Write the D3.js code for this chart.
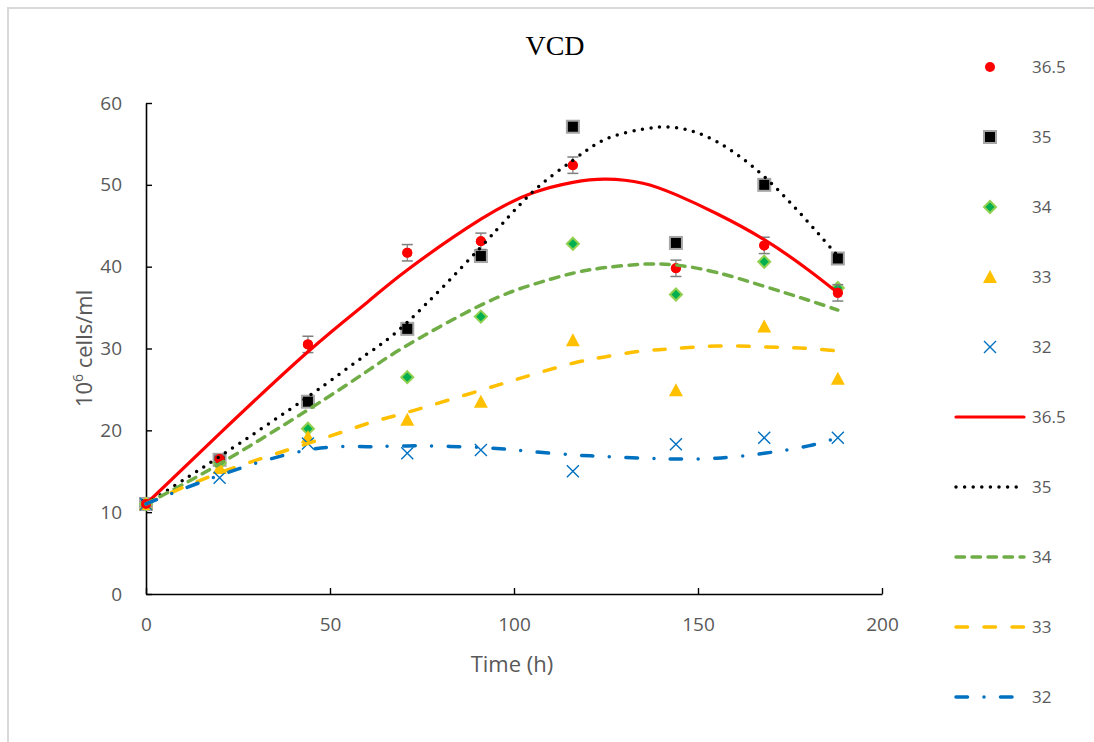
<!DOCTYPE html>
<html>
<head>
<meta charset="utf-8">
<script src="https://cdn.jsdelivr.net/npm/d3@7"></script>
<style>
  body { margin: 0; background: #fff; }
  svg text { font-family: "Open Sans", "Noto Sans", sans-serif; fill: #595959; }
</style>
</head>
<body>
<div id="chart"></div>
<script>
// data
const times = [0, 20, 44, 71, 91, 116, 144, 168, 188];
const vcd365 = [11.0, 16.5, 30.5, 41.7, 43.1, 52.4, 39.8, 42.6, 36.8];
const err365 = [0.3, 0.4, 1.0, 1.0, 1.0, 1.0, 1.0, 1.0, 1.0];
const vcd35 = [11.0, 16.4, 23.5, 32.4, 41.3, 57.1, 42.9, 50.0, 41.0];
const vcd34 = [11.0, 16.0, 20.2, 26.5, 33.9, 42.8, 36.6, 40.6, 37.4];
const vcd33 = [11.0, 15.4, 19.2, 21.3, 23.5, 31.0, 24.9, 32.7, 26.3];
const vcd32 = [11.0, 14.2, 18.4, 17.2, 17.6, 15.0, 18.3, 19.1, 19.1];

// trend lines
const trendTimes = [0, 20, 44, 60, 71, 91, 105, 116, 125, 135, 144, 155, 168, 180, 188];
const trend365 = [11.0, 19.6, 29.6, 35.6, 39.6, 45.8, 49.0, 50.3, 50.7, 50.2, 48.8, 46.5, 43.3, 39.6, 36.8];
const trend35 = [11.0, 16.8, 24.1, 29.3, 33.2, 42.4, 49.1, 53.0, 55.6, 56.8, 57.0, 55.3, 51.0, 45.4, 41.3];
const trend34 = [11.0, 15.9, 22.5, 27.2, 30.4, 35.3, 37.8, 39.2, 39.9, 40.3, 40.2, 39.3, 37.6, 35.9, 34.7];
const trend33 = [11.0, 14.8, 18.4, 20.8, 22.2, 24.9, 26.8, 28.2, 29.0, 29.7, 30.0, 30.3, 30.2, 30.0, 29.7];
const trend32 = [11.0, 14.5, 17.6, 18.0, 18.1, 17.9, 17.4, 17.0, 16.8, 16.6, 16.5, 16.6, 17.2, 18.1, 19.1];

const xTicks = [0, 50, 100, 150, 200];
const yTicks = [0, 10, 20, 30, 40, 50, 60];
const legendNames = ["36.5", "35", "34", "33", "32"];

const W = 1094, H = 742;
const margin = { left: 146, right: 212, top: 103, bottom: 148 };

const svg = d3.select("#chart").append("svg")
  .attr("width", W)
  .attr("height", H);

// chart area border
svg.append("rect")
  .attr("x", 8).attr("y", 8)
  .attr("width", W + 10).attr("height", H + 10)
  .attr("fill", "#fff")
  .attr("stroke", "#d9d9d9")
  .attr("stroke-width", 2);

const x = d3.scaleLinear().domain([0, 200]).range([margin.left, W - margin.right]);
const y = d3.scaleLinear().domain([0, 60]).range([H - margin.bottom, margin.top]);

// title
svg.append("text")
  .attr("x", 555).attr("y", 55)
  .attr("text-anchor", "middle")
  .style("font-family", "'Liberation Serif', 'DejaVu Serif', serif")
  .style("font-size", "28px")
  .style("fill", "#000")
  .text("VCD");

// axes
svg.append("g")
  .attr("transform", `translate(0,${y(0)})`)
  .call(d3.axisBottom(x).tickValues(xTicks).tickSizeInner(-6).tickSizeOuter(0).tickPadding(24))
  .call(g => g.select(".domain").attr("stroke", "#000").attr("stroke-width", 1.6))
  .call(g => g.selectAll(".tick line").attr("stroke", "#000").attr("stroke-width", 1.4))
  .call(g => g.selectAll(".tick text").style("font-size", "19px").style("font-family", "'Open Sans', sans-serif").attr("fill", "#595959"));

svg.append("g")
  .attr("transform", `translate(${x(0)},0)`)
  .call(d3.axisLeft(y).tickValues(yTicks).tickSizeInner(-6).tickSizeOuter(0).tickPadding(24))
  .call(g => g.select(".domain").attr("stroke", "#000").attr("stroke-width", 1.6))
  .call(g => g.selectAll(".tick line").attr("stroke", "#000").attr("stroke-width", 1.4))
  .call(g => g.selectAll(".tick text").style("font-size", "19px").style("font-family", "'Open Sans', sans-serif").attr("fill", "#595959"));

// axis titles
svg.append("text")
  .attr("x", x(100) - 2).attr("y", 672)
  .attr("text-anchor", "middle")
  .style("font-size", "22px")
  .text("Time (h)");

const yLab = svg.append("text")
  .attr("transform", `translate(92,${y(30)}) rotate(-90)`)
  .attr("text-anchor", "middle")
  .style("font-size", "22px");
yLab.append("tspan").text("10");
yLab.append("tspan").attr("dy", -9).style("font-size", "14px").text("6");
yLab.append("tspan").attr("dy", 9).text(" cells/ml");

// series styles
const series = [
  { name: "36.5", values: vcd365, trend: trend365, marker: "circle", color: "#ff0000", dash: null },
  { name: "35", values: vcd35, trend: trend35, marker: "square", color: "#000000", dash: "0,8.6" },
  { name: "34", values: vcd34, trend: trend34, marker: "diamond", color: "#70ad47", dash: "8.5,7.5" },
  { name: "33", values: vcd33, trend: trend33, marker: "triangle", color: "#ffc000", dash: "11.5,16.5" },
  { name: "32", values: vcd32, trend: trend32, marker: "cross", color: "#0070c0", dash: "11.5,16.5,0,16.5" }
];

function drawMarker(g, type, cx, cy) {
  if (type === "circle") {
    g.append("circle").attr("cx", cx).attr("cy", cy).attr("r", 5).attr("fill", "#ff0000");
  } else if (type === "square") {
    g.append("rect").attr("x", cx - 6).attr("y", cy - 6).attr("width", 12).attr("height", 12)
      .attr("fill", "#000").attr("stroke", "#a6a6a6").attr("stroke-width", 2);
  } else if (type === "diamond") {
    g.append("path").attr("transform", `translate(${cx},${cy})`)
      .attr("d", "M0,-6L6,0L0,6L-6,0Z")
      .attr("fill", "#00b050").attr("stroke", "#92d050").attr("stroke-width", 2);
  } else if (type === "triangle") {
    g.append("path").attr("transform", `translate(${cx},${cy})`)
      .attr("d", "M0,-7L7,6L-7,6Z")
      .attr("fill", "#ffc000");
  } else {
    g.append("path").attr("transform", `translate(${cx},${cy})`)
      .attr("d", "M-6,-6L6,6M6,-6L-6,6")
      .attr("fill", "none").attr("stroke", "#0070c0").attr("stroke-width", 1.4);
  }
}

// markers
const markers = svg.append("g").attr("class", "markers");
series.forEach(s => {
  const g = markers.append("g");
  s.values.forEach((v, i) => drawMarker(g, s.marker, x(times[i]), y(v)));
});

// error bars for 36.5
const eb = svg.append("g").attr("class", "errorbars");
times.forEach((t, i) => {
  const cx = x(t), lo = y(vcd365[i] - err365[i]), hi = y(vcd365[i] + err365[i]);
  eb.append("line").attr("x1", cx).attr("x2", cx).attr("y1", lo).attr("y2", hi)
    .attr("stroke", "#7f7f7f").attr("stroke-width", 1.2);
  [lo, hi].forEach(yy => eb.append("line")
    .attr("x1", cx - 5.5).attr("x2", cx + 5.5).attr("y1", yy).attr("y2", yy)
    .attr("stroke", "#7f7f7f").attr("stroke-width", 1.5));
});
// redraw red dots above bars
series.slice(0, 1).forEach(s => {
  s.values.forEach((v, i) => drawMarker(eb, s.marker, x(times[i]), y(v)));
});

// trend lines
const line = d3.line()
  .x((d, i) => x(trendTimes[i]))
  .y(d => y(d))
  .curve(d3.curveNatural);

const lines = svg.append("g").attr("class", "trendlines");
series.forEach(s => {
  lines.append("path")
    .attr("d", line(s.trend))
    .attr("fill", "none")
    .attr("stroke", s.color)
    .attr("stroke-width", s.dash ? 3.5 : 3.2)
    .attr("stroke-linecap", "round")
    .attr("stroke-dasharray", s.dash);
});

// legend
const legend = svg.append("g").attr("class", "legend");
const legX = 990, legTextX = 1032, legY0 = 67, legStep = 70;
series.forEach((s, i) => {
  const yy = legY0 + i * legStep;
  drawMarker(legend, s.marker, legX, yy);
  legend.append("text").attr("x", legTextX).attr("y", yy + 6).style("font-size", "17px").text(legendNames[i]);
});
series.forEach((s, i) => {
  const yy = legY0 + (i + 5) * legStep;
  legend.append("line")
    .attr("x1", 956).attr("x2", 1024).attr("y1", yy).attr("y2", yy)
    .attr("stroke", s.color)
    .attr("stroke-width", s.dash ? 3.5 : 3.2)
    .attr("stroke-linecap", "round")
    .attr("stroke-dasharray", s.dash);
  legend.append("text").attr("x", legTextX).attr("y", yy + 6).style("font-size", "17px").text(legendNames[i]);
});
</script>
</body>
</html>
